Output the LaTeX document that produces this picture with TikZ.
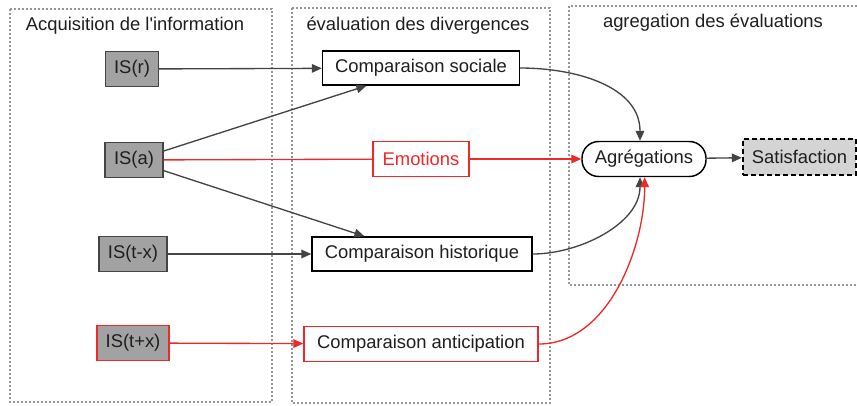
\documentclass[tikz,border=0pt]{standalone}
\usepackage{fontspec}
\setmainfont{Liberation Sans}
\usetikzlibrary{arrows.meta,calc}

\definecolor{linegray}{RGB}{68,68,68}
\definecolor{panelgray}{RGB}{150,150,150}
\definecolor{redline}{RGB}{240,40,40}
\definecolor{isfill}{RGB}{162,162,162}
\definecolor{satfill}{RGB}{212,212,212}
\definecolor{textdark}{RGB}{30,30,30}

\begin{document}
\begin{tikzpicture}[x=0.75pt,y=-0.75pt,
  font=\fontsize{13.8}{16}\selectfont,text=textdark,
  panel/.style={draw=panelgray,line width=0.9pt,dash pattern=on 1.2pt off 1.8pt},
  paneltitle/.style={inner sep=0pt},
  isbox/.style={draw=linegray,fill=isfill,line width=1.1pt,minimum height=26.25pt,inner sep=0pt},
  cmpbox/.style={draw=black,fill=white,line width=1.1pt,minimum height=25.5pt,inner sep=0pt},
  redbox/.style={cmpbox,draw=redline},
  flow/.style={draw=linegray,line width=1pt,-{Triangle[length=7.5pt,width=6.5pt]}},
  redflow/.style={flow,draw=redline}]
  \useasboundingbox (0,0) rectangle (857,405);

  % zones
  \draw[panel] (10,9) rectangle (272,402);
  \draw[panel] (292,8) rectangle (550,403);
  \draw[panel] (569,6) rectangle (862,285);
  \node[paneltitle] (t1) at (135,26) {Acquisition de l\textquotesingle information};
  \node[paneltitle] (t2) at (418,26) {évaluation des divergences};
  \node[paneltitle] (t3) at (713,23) {agregation des évaluations};

  % sources
  \node[isbox,minimum width=39.75pt] (isr) at (132,69) {IS(r)};
  \node[isbox,minimum width=43.5pt] (isa) at (134,160) {IS(a)};
  \node[isbox,minimum width=51pt] (istm) at (133,254) {IS(t-x)};
  \node[isbox,minimum width=54pt,draw=redline] (istp) at (133,343) {IS(t+x)};

  % comparaisons
  \node[cmpbox,minimum width=147.75pt] (cs) at (421,68) {Comparaison sociale};
  \node[redbox,minimum width=72pt,minimum height=26.25pt,text=redline] (emo) at (421,159) {Emotions};
  \node[cmpbox,minimum width=165pt] (ch) at (422,254) {Comparaison historique};
  \node[redbox,minimum width=175.5pt,minimum height=26.25pt] (ca) at (421,344) {Comparaison anticipation};

  % agregation
  \node[cmpbox,minimum width=93pt,minimum height=26.25pt,rounded corners=12.5pt] (agg) at (644,159) {Agrégations};
  \node[draw=black,fill=satfill,line width=1.8pt,dash pattern=on 3.5pt off 2.5pt,
    minimum width=84.75pt,minimum height=27pt,inner sep=0pt] (sat) at (799.5,157) {Satisfaction};

  % liens
  \draw[flow] (isr) -- (cs);
  \draw[flow] ([yshift=6.75pt]isa.east) -- ($(cs.south west)!0.225!(cs.south east)$);
  \draw[flow] ([yshift=-8pt]isa.east) -- ($(ch.north west)!0.24!(ch.north east)$);
  \draw[flow] (istm) -- (ch);
  \draw[redflow] (istp) -- (ca);
  \draw[draw=redline,line width=1pt] (isa) -- (emo);
  \draw[redflow] (emo) -- (agg);
  \draw[flow] (cs.east) to[out=0,in=90] ([xshift=-3pt]agg.north);
  \draw[flow] (ch.east) to[out=0,in=-90,looseness=0.9] ([xshift=-3pt]agg.south);
  \draw[redflow] (ca.east) to[out=0,in=-90,looseness=0.9] ([xshift=0.5pt]agg.south);
  \draw[flow] (agg) -- (sat);
\end{tikzpicture}
\end{document}
